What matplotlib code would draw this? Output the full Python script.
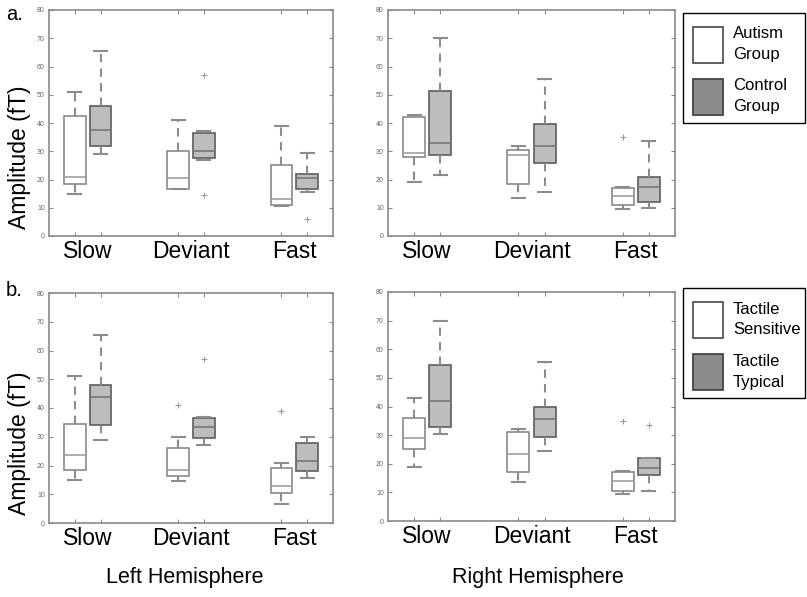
import matplotlib
matplotlib.use("Agg")
import matplotlib.pyplot as plt
from matplotlib.patches import Rectangle

plt.rcParams['font.family'] = ['Liberation Sans', 'DejaVu Sans']

# box order: Slow (grp1, grp2), Deviant (grp1, grp2), Fast (grp1, grp2)
categories = ["Slow", "Deviant", "Fast"]
positions = [1, 2, 5, 6, 9, 10]

# a. left hemisphere, Autism vs Control
a_left_med = [21, 37.5, 20.5, 30, 13, 20.5]
a_left_q1 = [18.5, 32, 16.5, 27.5, 11, 16.5]
a_left_q3 = [42.5, 46, 30, 36.5, 25, 22]
a_left_lo = [15, 29, 16.5, 27, 10.5, 15.5]
a_left_hi = [51, 65.5, 41, 37, 39, 29.5]
a_left_fliers = [[], [], [], [57, 14.5], [], [6]]

# a. right hemisphere
a_right_med = [29.5, 33, 28.5, 32, 14, 17.5]
a_right_q1 = [28, 28.5, 18.5, 26, 11, 12]
a_right_q3 = [42, 51.5, 30.5, 39.5, 17, 21]
a_right_lo = [19, 21.5, 13.5, 15.5, 9.5, 10]
a_right_hi = [43, 70, 32, 55.5, 17.5, 33.5]
a_right_fliers = [[], [], [], [], [35], []]

# b. left hemisphere, Tactile Sensitive vs Typical
b_left_med = [23.5, 44, 18.5, 33.5, 13, 21.5]
b_left_q1 = [18.5, 34, 16.5, 29.5, 10.5, 18]
b_left_q3 = [34.5, 48, 26, 36.5, 19, 28]
b_left_lo = [15, 29, 14.5, 27, 6.5, 15.5]
b_left_hi = [51, 65.5, 30, 37, 21, 30]
b_left_fliers = [[], [], [41], [57], [39], []]

# b. right hemisphere
b_right_med = [29, 42, 23.5, 35.5, 14, 18.5]
b_right_q1 = [25, 33, 17, 29.5, 10.5, 16]
b_right_q3 = [36, 54.5, 31, 40, 17, 22]
b_right_lo = [19, 30.5, 13.5, 24.5, 9.5, 10.5]
b_right_hi = [43, 70, 32, 55.5, 17.5, 22]
b_right_fliers = [[], [], [], [], [35], [33.5]]

legend_a = [("Autism", "Group"), ("Control", "Group")]
legend_b = [("Tactile", "Sensitive"), ("Tactile", "Typical")]

GRAY_FILL = "#bdbdbd"
GRAY_EDGE = "#5e5e5e"
WHITE_EDGE = "#8a8a8a"


def draw_panel(ax, med, q1, q3, lo, hi, fliers):
    stats = []
    for i in range(len(med)):
        stats.append(dict(med=med[i], q1=q1[i], q3=q3[i], whislo=lo[i],
                          whishi=hi[i], fliers=fliers[i]))
    for i, st in enumerate(stats):
        gray = i % 2 == 1
        edge = GRAY_EDGE if gray else WHITE_EDGE
        ax.bxp([st], positions=[positions[i]], widths=0.84, capwidths=0.5,
               patch_artist=True, showfliers=True,
               boxprops=dict(facecolor=GRAY_FILL if gray else "white",
                             edgecolor=edge, linewidth=1.2),
               medianprops=dict(color="#777777" if gray else "#a0a0a0", linewidth=1.2),
               whiskerprops=dict(color="#8c8c8c", linewidth=1.5, linestyle=(0, (4, 3))),
               capprops=dict(color="#8c8c8c", linewidth=1.5),
               flierprops=dict(marker="+", markeredgecolor="#9a9a9a",
                               markersize=4, markeredgewidth=0.8))
    ax.set_xlim(0, 11)
    ax.set_ylim(0, 80)
    ax.set_yticks(range(0, 81, 10))
    ax.set_xticks(positions)
    ax.set_xticklabels([])
    ax.tick_params(axis="y", direction="in", right=True, length=3, width=0.8,
                   labelsize=5, labelcolor="#666666", color="#888888", pad=3)
    ax.tick_params(axis="x", direction="in", top=True, length=3, width=0.8,
                   color="#888888")
    for sp in ax.spines.values():
        sp.set_color("#8a8a8a")
        sp.set_linewidth(1.2)
    for k, cat in enumerate(categories):
        ax.text(positions[2 * k] + 0.5, -1.5, cat, ha="center", va="top",
                fontsize=16.5)


fig = plt.figure(figsize=(8.07, 5.97), dpi=100)
W, H = 807, 597


def px_axes(x0, y0, x1, y1):
    return fig.add_axes([x0 / W, 1 - y1 / H, (x1 - x0) / W, (y1 - y0) / H])


def px_rect(x0, y0, x1, y1, **kw):
    fig.patches.append(Rectangle((x0 / W, 1 - y1 / H), (x1 - x0) / W, (y1 - y0) / H,
                                 transform=fig.transFigure, figure=fig, **kw))


ax1 = px_axes(49, 10, 333, 236)
ax2 = px_axes(388, 10, 675, 236)
ax3 = px_axes(49, 293, 333, 523)
ax4 = px_axes(388, 292, 675, 521)

draw_panel(ax1, a_left_med, a_left_q1, a_left_q3, a_left_lo, a_left_hi, a_left_fliers)
draw_panel(ax2, a_right_med, a_right_q1, a_right_q3, a_right_lo, a_right_hi, a_right_fliers)
draw_panel(ax3, b_left_med, b_left_q1, b_left_q3, b_left_lo, b_left_hi, b_left_fliers)
draw_panel(ax4, b_right_med, b_right_q1, b_right_q3, b_right_lo, b_right_hi, b_right_fliers)

fig.text(20 / W, 1 - 157 / H, "Amplitude (fT)", rotation=90, ha="center", va="center", fontsize=16.5)
fig.text(20 / W, 1 - 443 / H, "Amplitude (fT)", rotation=90, ha="center", va="center", fontsize=16.5)
fig.text(6 / W, 1 - 15 / H, "a.", ha="left", va="center", fontsize=14.5)
fig.text(6 / W, 1 - 290 / H, "b.", ha="left", va="center", fontsize=14.5)
fig.text(185 / W, 1 - 578 / H, "Left Hemisphere", ha="center", va="center", fontsize=15.5)
fig.text(538 / W, 1 - 578 / H, "Right Hemisphere", ha="center", va="center", fontsize=15.5)


def add_legend(labels, top):
    # frame, then two swatches with two-line labels
    px_rect(683, top, 805, top + 110, facecolor="white", edgecolor="black", linewidth=1.0)
    fills = [("white", "#555555"), ("#8c8c8c", "#444444")]
    for j, (lab, (fc, ec)) in enumerate(zip(labels, fills)):
        y0 = top + 14 + j * 52
        px_rect(693, y0, 723, y0 + 36, facecolor=fc, edgecolor=ec, linewidth=1.3)
        fig.text(733 / W, 1 - (y0 + 7) / H, lab[0], ha="left", va="center", fontsize=12)
        fig.text(733 / W, 1 - (y0 + 28) / H, lab[1], ha="left", va="center", fontsize=12)


add_legend(legend_a, 13)
add_legend(legend_b, 288)

fig.savefig("out.png", dpi=100)
